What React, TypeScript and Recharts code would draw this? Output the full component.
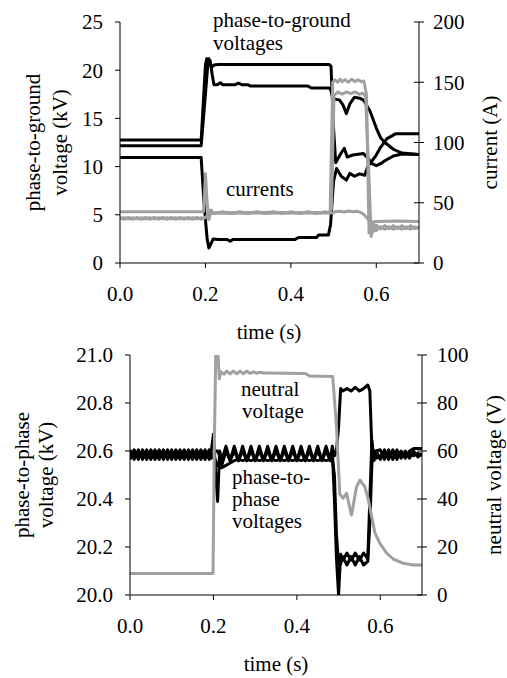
import React from "react";
import { LineChart, Line, XAxis, YAxis } from "recharts";

const FONT = "Liberation Serif";
const FS = 21;
const BLACK = "#000";
const GRAY = "#a0a0a0";

// ---- axes ----
const timeTicks = [0, 0.2, 0.4, 0.6];
const pgTicks = [0, 5, 10, 15, 20, 25];
const currentTicks = [0, 50, 100, 150, 200];
const ppTicks = [20, 20.2, 20.4, 20.6, 20.8, 21];
const neutralTicks = [0, 20, 40, 60, 80, 100];

// ---- top chart: phase-to-ground voltages (kV) ----
const tV1 = [0, 0.19, 0.2, 0.203, 0.208, 0.212, 0.215, 0.22, 0.23, 0.49, 0.494, 0.5, 0.505, 0.515, 0.525, 0.532, 0.545, 0.57, 0.58, 0.59, 0.6, 0.61, 0.62, 0.64, 0.66, 0.7];
const vV1 = [12.75, 12.75, 20.5, 21.2, 21.2, 20.6, 20.3, 20.55, 20.6, 20.6, 20.4, 14.0, 10.4, 11.2, 11.9, 11.0, 11.2, 11.35, 10.9, 10.3, 10.1, 10.3, 10.6, 11.1, 11.3, 11.25];

const tV2 = [0, 0.19, 0.2, 0.206, 0.211, 0.216, 0.22, 0.228, 0.235, 0.24, 0.27, 0.277, 0.285, 0.3, 0.305, 0.44, 0.448, 0.49, 0.493, 0.498, 0.503, 0.514, 0.522, 0.53, 0.538, 0.549, 0.561, 0.57, 0.585, 0.6, 0.61, 0.62, 0.64, 0.66, 0.7];
const vV2 = [12.15, 12.15, 17.5, 20.8, 21.0, 19.5, 18.5, 18.5, 18.7, 18.5, 18.5, 18.65, 18.5, 18.5, 18.35, 18.35, 18.15, 18.15, 18.0, 17.2, 17.0, 16.9, 16.4, 15.5, 16.5, 17.2, 17.1, 16.9, 15.8, 14.0, 13.0, 12.5, 11.8, 11.4, 11.25];

const tV3 = [0, 0.19, 0.197, 0.204, 0.208, 0.212, 0.218, 0.23, 0.25, 0.258, 0.265, 0.41, 0.418, 0.46, 0.465, 0.488, 0.493, 0.5, 0.507, 0.518, 0.53, 0.538, 0.549, 0.561, 0.573, 0.58, 0.59, 0.6, 0.61, 0.625, 0.645, 0.7];
const vV3 = [10.95, 10.95, 6.0, 2.5, 1.55, 1.9, 2.5, 2.45, 2.45, 2.25, 2.45, 2.45, 2.65, 2.65, 2.9, 2.9, 4.0, 8.5, 9.8, 9.0, 8.6, 9.3, 9.0, 9.25, 9.1, 10.0, 10.6, 11.2, 12.0, 12.9, 13.4, 13.4];

// ---- top chart: currents (A) ----
const tCa = [0, 0.19, 0.196, 0.2, 0.204, 0.208, 0.213, 0.218, 0.25, 0.3, 0.35, 0.4, 0.45, 0.492, 0.498, 0.503, 0.51, 0.515, 0.52, 0.527, 0.535, 0.542, 0.55, 0.557, 0.565, 0.571, 0.577, 0.583, 0.588, 0.593, 0.6, 0.61, 0.62, 0.63, 0.64, 0.65, 0.66, 0.67, 0.68, 0.69, 0.7];
const vCa = [42.5, 42.5, 43, 74, 50, 36, 44, 41.5, 42, 41.8, 42.2, 41.8, 42, 42, 150, 152, 150, 152.5, 150.5, 152, 150, 152.5, 150.5, 152, 150.5, 151, 140, 25, 33, 26, 31.5, 28.5, 31, 28.5, 31, 28.5, 31, 28.5, 31, 28.5, 30];

const tCb = [0, 0.01, 0.02, 0.03, 0.04, 0.05, 0.06, 0.07, 0.08, 0.09, 0.1, 0.11, 0.12, 0.13, 0.14, 0.15, 0.16, 0.17, 0.18, 0.19,
  0.195, 0.2, 0.205, 0.21, 0.215,
  0.22, 0.24, 0.26, 0.28, 0.3, 0.32, 0.34, 0.36, 0.38, 0.4, 0.42, 0.44, 0.46, 0.48,
  0.49, 0.495, 0.501, 0.51, 0.52, 0.53, 0.54, 0.55, 0.56, 0.568, 0.575, 0.582, 0.588, 0.594, 0.6, 0.61, 0.62, 0.63, 0.64, 0.65, 0.66, 0.67, 0.68, 0.69, 0.7];
const vCb = [37.8, 36.3, 37.8, 36.3, 37.8, 36.3, 37.8, 36.3, 37.8, 36.3, 37.8, 36.3, 37.8, 36.3, 37.8, 36.3, 37.8, 36.3, 37.8, 36.3,
  37, 38, 39, 40, 42,
  41.0, 42.6, 41.0, 42.6, 41.0, 42.6, 41.0, 42.6, 41.0, 42.6, 41.0, 42.6, 41.0, 42.6,
  41.5, 45, 139, 142, 140, 142, 140.5, 142, 140, 141, 138, 80, 22, 32, 27, 30, 28, 30, 28, 30, 28, 30, 28, 30, 28.5];

const tCc = [0, 0.01, 0.02, 0.03, 0.04, 0.05, 0.06, 0.07, 0.08, 0.09, 0.1, 0.11, 0.12, 0.13, 0.14, 0.15, 0.16, 0.17, 0.18, 0.19,
  0.195, 0.2, 0.205, 0.21, 0.215, 0.22, 0.25, 0.3, 0.35, 0.4, 0.45, 0.49, 0.5, 0.505, 0.515, 0.525, 0.535, 0.545, 0.555, 0.563, 0.57, 0.577, 0.584, 0.59, 0.6, 0.65, 0.7];
const vCc = [36.6, 37.6, 36.6, 37.6, 36.6, 37.6, 36.6, 37.6, 36.6, 37.6, 36.6, 37.6, 36.6, 37.6, 36.6, 37.6, 36.6, 37.6, 36.6, 37.6,
  37, 38, 39, 41, 41.5, 41.5, 41.3, 41.6, 41.3, 41.6, 41.4, 41.5, 41.8, 42.8, 43, 42.3, 43.2, 42.5, 43, 42, 40.5, 38, 35, 34, 34.5, 34.8, 34.5];

// ---- bottom chart: phase-to-phase voltages (kV) ----
const tPP = [0, 0.01, 0.02, 0.03, 0.04, 0.05, 0.06, 0.07, 0.08, 0.09, 0.1, 0.11, 0.12, 0.13, 0.14, 0.15, 0.16, 0.17, 0.18, 0.19,
  0.195, 0.2, 0.205, 0.21, 0.215,
  0.22, 0.23, 0.24, 0.25, 0.26, 0.27, 0.28, 0.29, 0.3, 0.31, 0.32, 0.33, 0.34, 0.35, 0.36, 0.37, 0.38, 0.39, 0.4, 0.41, 0.42, 0.43, 0.44, 0.45, 0.46, 0.47, 0.48,
  0.485, 0.49, 0.495, 0.5, 0.505,
  0.51, 0.52, 0.53, 0.54, 0.55, 0.56, 0.57,
  0.575, 0.58, 0.585, 0.59,
  0.6, 0.61, 0.62, 0.63, 0.64, 0.65, 0.66, 0.67, 0.68, 0.69, 0.7];
const vP1 = [20.605, 20.565, 20.605, 20.565, 20.605, 20.565, 20.605, 20.565, 20.605, 20.565, 20.605, 20.565, 20.605, 20.565, 20.605, 20.565, 20.605, 20.565, 20.605, 20.565,
  20.6, 20.67, 20.52, 20.39, 20.6,
  20.56, 20.62, 20.56, 20.62, 20.56, 20.62, 20.56, 20.62, 20.56, 20.62, 20.56, 20.62, 20.56, 20.62, 20.56, 20.62, 20.56, 20.62, 20.56, 20.62, 20.56, 20.62, 20.56, 20.62, 20.56, 20.62, 20.56,
  20.62, 20.58, 20.6, 20.7, 20.86,
  20.85, 20.86, 20.85, 20.865, 20.85, 20.86, 20.875,
  20.85, 20.6, 20.57, 20.6,
  20.565, 20.605, 20.565, 20.605, 20.565, 20.6, 20.57, 20.6, 20.61, 20.61, 20.61];
const vP2 = [20.565, 20.605, 20.565, 20.605, 20.565, 20.605, 20.565, 20.605, 20.565, 20.605, 20.565, 20.605, 20.565, 20.605, 20.565, 20.605, 20.565, 20.605, 20.565, 20.605,
  20.57, 20.58, 20.6, 20.6, 20.58,
  20.54, 20.6, 20.56, 20.6, 20.56, 20.6, 20.56, 20.6, 20.56, 20.6, 20.56, 20.6, 20.56, 20.6, 20.56, 20.6, 20.56, 20.6, 20.56, 20.6, 20.56, 20.6, 20.56, 20.6, 20.56, 20.6, 20.56,
  20.6, 20.4, 20.15, 20.0, 20.17,
  20.145, 20.175, 20.145, 20.175, 20.145, 20.175, 20.15,
  20.4, 20.645, 20.56, 20.6,
  20.605, 20.565, 20.605, 20.565, 20.605, 20.57, 20.6, 20.57, 20.6, 20.575, 20.59];
const vP3 = [20.58, 20.59, 20.58, 20.59, 20.58, 20.59, 20.58, 20.59, 20.58, 20.59, 20.58, 20.59, 20.58, 20.59, 20.58, 20.59, 20.58, 20.59, 20.58, 20.59,
  20.59, 20.58, 20.56, 20.54, 20.53,
  20.53, 20.54, 20.55, 20.56, 20.565, 20.56, 20.565, 20.56, 20.565, 20.56, 20.565, 20.56, 20.565, 20.56, 20.565, 20.56, 20.565, 20.56, 20.565, 20.56, 20.565, 20.56, 20.565, 20.56, 20.565, 20.56, 20.565,
  20.57, 20.5, 20.25, 20.13, 20.13,
  20.16, 20.125, 20.16, 20.125, 20.16, 20.125, 20.14,
  20.3, 20.55, 20.6, 20.57,
  20.58, 20.59, 20.58, 20.59, 20.58, 20.59, 20.58, 20.59, 20.58, 20.59, 20.58];

// ---- bottom chart: neutral voltage (V) ----
const tN = [0, 0.199, 0.202, 0.206, 0.21, 0.214, 0.218, 0.225, 0.232, 0.24, 0.248, 0.256, 0.264, 0.272, 0.28, 0.288, 0.296, 0.304, 0.312, 0.32,
  0.33, 0.42, 0.43, 0.486, 0.495, 0.503, 0.511, 0.519, 0.531, 0.543, 0.551, 0.563, 0.571, 0.587, 0.599, 0.615, 0.631, 0.655, 0.68, 0.7];
const vN = [9, 9, 60, 106, 104, 90, 93, 92, 93.3, 92.2, 93.3, 92.2, 93.3, 92.2, 93.3, 92.3, 93, 92.4, 92.8, 92.5,
  92.5, 92.3, 91.3, 91, 70, 42, 40.3, 42.4, 33.3, 45, 47.9, 45.1, 40, 26, 21.5, 17.5, 15, 13.2, 12.5, 12.5];

const pts = (t: number[], v: number[]) => t.map((x, i) => ({ t: x, v: v[i] }));

const tickStyle = { fill: BLACK, fontSize: FS, fontFamily: FONT };

// right-hand ticks cross the axis line
const crossTick = (gap: number) => (props: any) => {
  const { x, y, payload } = props;
  const ax = x - gap;
  return (
    <g>
      <line x1={ax - 5} x2={ax + 5} y1={y} y2={y} stroke={BLACK} strokeWidth={1} />
      <text x={x} y={y} dy="0.355em" textAnchor="start" fill={BLACK} fontFamily={FONT} fontSize={FS}>
        {payload.value}
      </text>
    </g>
  );
};

const Txt = ({ x, y, children, rot, anchor }: { x: number; y: number; children: string; rot?: boolean; anchor?: "start" | "middle" | "end" }) => (
  <text
    x={x}
    y={y}
    fontFamily={FONT}
    fontSize={FS}
    fill={BLACK}
    textAnchor={anchor ?? "start"}
    transform={rot ? `rotate(-90 ${x} ${y})` : undefined}
  >
    {children}
  </text>
);

const lineProps = {
  type: "linear" as const,
  dataKey: "v",
  dot: false,
  activeDot: false,
  isAnimationActive: false,
  strokeWidth: 3,
  strokeLinejoin: "round" as const,
};

function GroundChart() {
  return (
    <LineChart width={507} height={345} margin={{ top: 22, right: 0, bottom: 0, left: 0 }}>
      <XAxis
        dataKey="t"
        type="number"
        domain={[0, 0.7]}
        ticks={timeTicks}
        interval={0}
        allowDataOverflow
        tickFormatter={(v) => v.toFixed(1)}
        height={82}
        tickSize={5}
        tickMargin={18}
        stroke={BLACK}
        tick={tickStyle}
      />
      <YAxis
        yAxisId="kv"
        orientation="left"
        domain={[0, 25]}
        ticks={pgTicks}
        interval={0}
        width={120}
        tickSize={5}
        tickMargin={12}
        stroke={BLACK}
        tick={tickStyle}
      />
      <YAxis
        yAxisId="amp"
        orientation="right"
        domain={[0, 200]}
        ticks={currentTicks}
        interval={0}
        width={88}
        tickSize={5}
        tickMargin={9}
        tickLine={false}
        stroke={BLACK}
        tick={crossTick(14)}
      />
      <Line {...lineProps} yAxisId="kv" data={pts(tV1, vV1)} stroke={BLACK} />
      <Line {...lineProps} yAxisId="kv" data={pts(tV2, vV2)} stroke={BLACK} />
      <Line {...lineProps} yAxisId="kv" data={pts(tV3, vV3)} stroke={BLACK} />
      <Line {...lineProps} yAxisId="amp" data={pts(tCc, vCc)} stroke={GRAY} />
      <Line {...lineProps} yAxisId="amp" data={pts(tCb, vCb)} stroke={GRAY} />
      <Line {...lineProps} yAxisId="amp" data={pts(tCa, vCa)} stroke={GRAY} />
      <Txt x={213} y={27}>phase-to-ground</Txt>
      <Txt x={213} y={50}>voltages</Txt>
      <Txt x={226} y={196}>currents</Txt>
      <Txt x={40} y={142.5} rot anchor="middle">phase-to-ground</Txt>
      <Txt x={67} y={142.5} rot anchor="middle">voltage (kV)</Txt>
      <Txt x={497} y={142.5} rot anchor="middle">current (A)</Txt>
      <Txt x={269} y={339} anchor="middle">time (s)</Txt>
    </LineChart>
  );
}

function PhaseChart() {
  return (
    <LineChart width={507} height={343} margin={{ top: 20, right: 0, bottom: 0, left: 0 }}>
      <XAxis
        dataKey="t"
        type="number"
        domain={[0, 0.7]}
        ticks={timeTicks}
        interval={0}
        allowDataOverflow
        tickFormatter={(v) => v.toFixed(1)}
        height={83}
        tickSize={5}
        tickMargin={18}
        stroke={BLACK}
        tick={tickStyle}
      />
      <YAxis
        yAxisId="kv"
        orientation="left"
        domain={[20, 21]}
        ticks={ppTicks}
        interval={0}
        allowDataOverflow
        tickFormatter={(v) => v.toFixed(1)}
        width={130}
        tickSize={5}
        tickMargin={12}
        stroke={BLACK}
        tick={tickStyle}
      />
      <YAxis
        yAxisId="v"
        orientation="right"
        domain={[0, 100]}
        ticks={neutralTicks}
        interval={0}
        allowDataOverflow
        width={85}
        tickSize={5}
        tickMargin={10}
        tickLine={false}
        stroke={BLACK}
        tick={crossTick(15)}
      />
      <Line {...lineProps} yAxisId="kv" data={pts(tPP, vP3)} stroke={BLACK} />
      <Line {...lineProps} yAxisId="kv" data={pts(tPP, vP2)} stroke={BLACK} />
      <Line {...lineProps} yAxisId="kv" data={pts(tPP, vP1)} stroke={BLACK} />
      <Line {...lineProps} yAxisId="v" data={pts(tN, vN)} stroke={GRAY} />
      <Txt x={241} y={61}>neutral</Txt>
      <Txt x={242} y={83}>voltage</Txt>
      <Txt x={232} y={149}>phase-to-</Txt>
      <Txt x={232} y={171}>phase</Txt>
      <Txt x={232} y={193}>voltages</Txt>
      <Txt x={29} y={140} rot anchor="middle">phase-to-phase</Txt>
      <Txt x={53} y={140} rot anchor="middle">voltage (kV)</Txt>
      <Txt x={501} y={140} rot anchor="middle">neutral voltage (V)</Txt>
      <Txt x={276} y={336} anchor="middle">time (s)</Txt>
    </LineChart>
  );
}

export default function App() {
  return (
    <div style={{ position: "absolute", left: 0, top: 0, width: 507, height: 678, background: "#fff" }}>
      <div style={{ position: "absolute", left: 0, top: 0 }}>
        <GroundChart />
      </div>
      <div style={{ position: "absolute", left: 0, top: 335 }}>
        <PhaseChart />
      </div>
    </div>
  );
}
